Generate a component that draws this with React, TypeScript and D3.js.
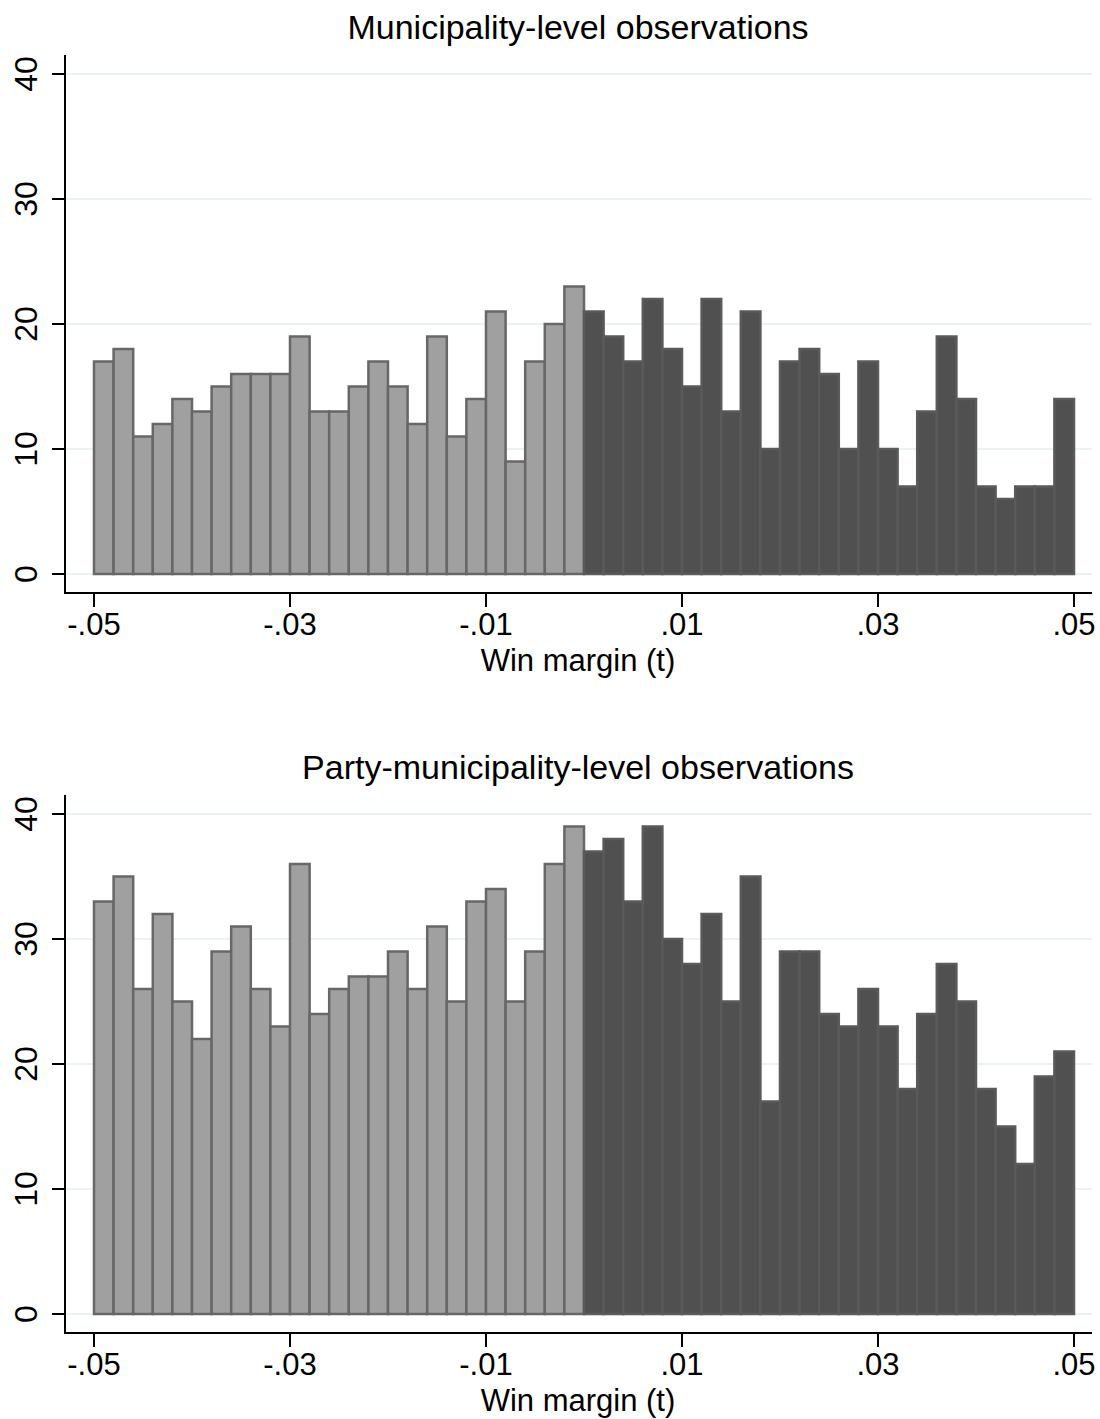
import React from "react";
import * as d3 from "d3";

// bin counts, 50 bins of width .002 from -.05 to .05
const municipalityCounts = [
  17, 18, 11, 12, 14, 13, 15, 16, 16, 16, 19, 13, 13, 15, 17, 15, 12, 19, 11, 14, 21, 9, 17, 20, 23,
  21, 19, 17, 22, 18, 15, 22, 13, 21, 10, 17, 18, 16, 10, 17, 10, 7, 13, 19, 14, 7, 6, 7, 7, 14,
];
const partyCounts = [
  33, 35, 26, 32, 25, 22, 29, 31, 26, 23, 36, 24, 26, 27, 27, 29, 26, 31, 25, 33, 34, 25, 29, 36, 39,
  37, 38, 33, 39, 30, 28, 32, 25, 35, 17, 29, 29, 24, 23, 26, 23, 18, 24, 28, 25, 18, 15, 12, 19, 21,
];
const xTicks = [-0.05, -0.03, -0.01, 0.01, 0.03, 0.05];
const yTicks = [0, 10, 20, 30, 40];
const binWidth = 0.002;
const xMin = -0.05;

const font = "'Liberation Sans', Arial, sans-serif";
// stata style labels: -.05, .01
const fmt = (v: number) => d3.format(".2f")(v).replace("\u2212", "-").replace("0.", ".");

function Panel({ title, counts, top }: { title: string; counts: number[]; top: number }) {
  const x = d3.scaleLinear().domain([-0.05, 0.05]).range([94, 1074]);
  const y = d3.scaleLinear().domain([0, 40]).range([top + 574, top + 74]);
  const axisY = top + 593;
  const axisX = 65;

  return (
    <g>
      <text x={578} y={top + 39} textAnchor="middle" fontSize={34} fontFamily={font} fill="#000">
        {title}
      </text>
      {/* gridlines */}
      {yTicks.map((t) => (
        <line key={"g" + t} x1={axisX} x2={1092} y1={y(t)} y2={y(t)} stroke="#eaf2f3" strokeWidth={2} />
      ))}
      {/* bars */}
      {counts.map((c, i) => {
        const x0 = xMin + i * binWidth;
        const left = x0 < 0;
        return (
          <rect
            key={i}
            x={x(x0)}
            y={y(c)}
            width={x(x0 + binWidth) - x(x0)}
            height={y(0) - y(c)}
            fill={left ? "#a0a0a0" : "#505050"}
            stroke={left ? "#676767" : "#5a5a5a"}
            strokeWidth={2.5}
          />
        );
      })}
      {/* y axis */}
      <line x1={axisX} x2={axisX} y1={top + 55} y2={axisY} stroke="#000" strokeWidth={2} />
      {yTicks.map((t) => (
        <g key={"y" + t}>
          <line x1={axisX - 13} x2={axisX} y1={y(t)} y2={y(t)} stroke="#000" strokeWidth={2} />
          <text
            transform={`translate(${37},${y(t)}) rotate(-90)`}
            textAnchor="middle"
            fontSize={32}
            fontFamily={font}
            fill="#000"
          >
            {t}
          </text>
        </g>
      ))}
      {/* x axis */}
      <line x1={axisX - 1} x2={1092} y1={axisY} y2={axisY} stroke="#000" strokeWidth={2} />
      {xTicks.map((t) => (
        <g key={"x" + t}>
          <line x1={x(t)} x2={x(t)} y1={axisY} y2={axisY + 14} stroke="#000" strokeWidth={2} />
          <text x={x(t)} y={axisY + 42} textAnchor="middle" fontSize={31} fontFamily={font} fill="#000">
            {fmt(t)}
          </text>
        </g>
      ))}
      <text x={578} y={axisY + 78} textAnchor="middle" fontSize={31} fontFamily={font} fill="#000">
        Win margin (t)
      </text>
    </g>
  );
}

export default function App() {
  return (
    <svg
      width={1100}
      height={1419}
      style={{ position: "absolute", left: 0, top: 0, background: "#fff" }}
    >
      <rect width={1100} height={1419} fill="#fff" />
      <Panel title="Municipality-level observations" counts={municipalityCounts} top={0} />
      <Panel title="Party-municipality-level observations" counts={partyCounts} top={740} />
    </svg>
  );
}
